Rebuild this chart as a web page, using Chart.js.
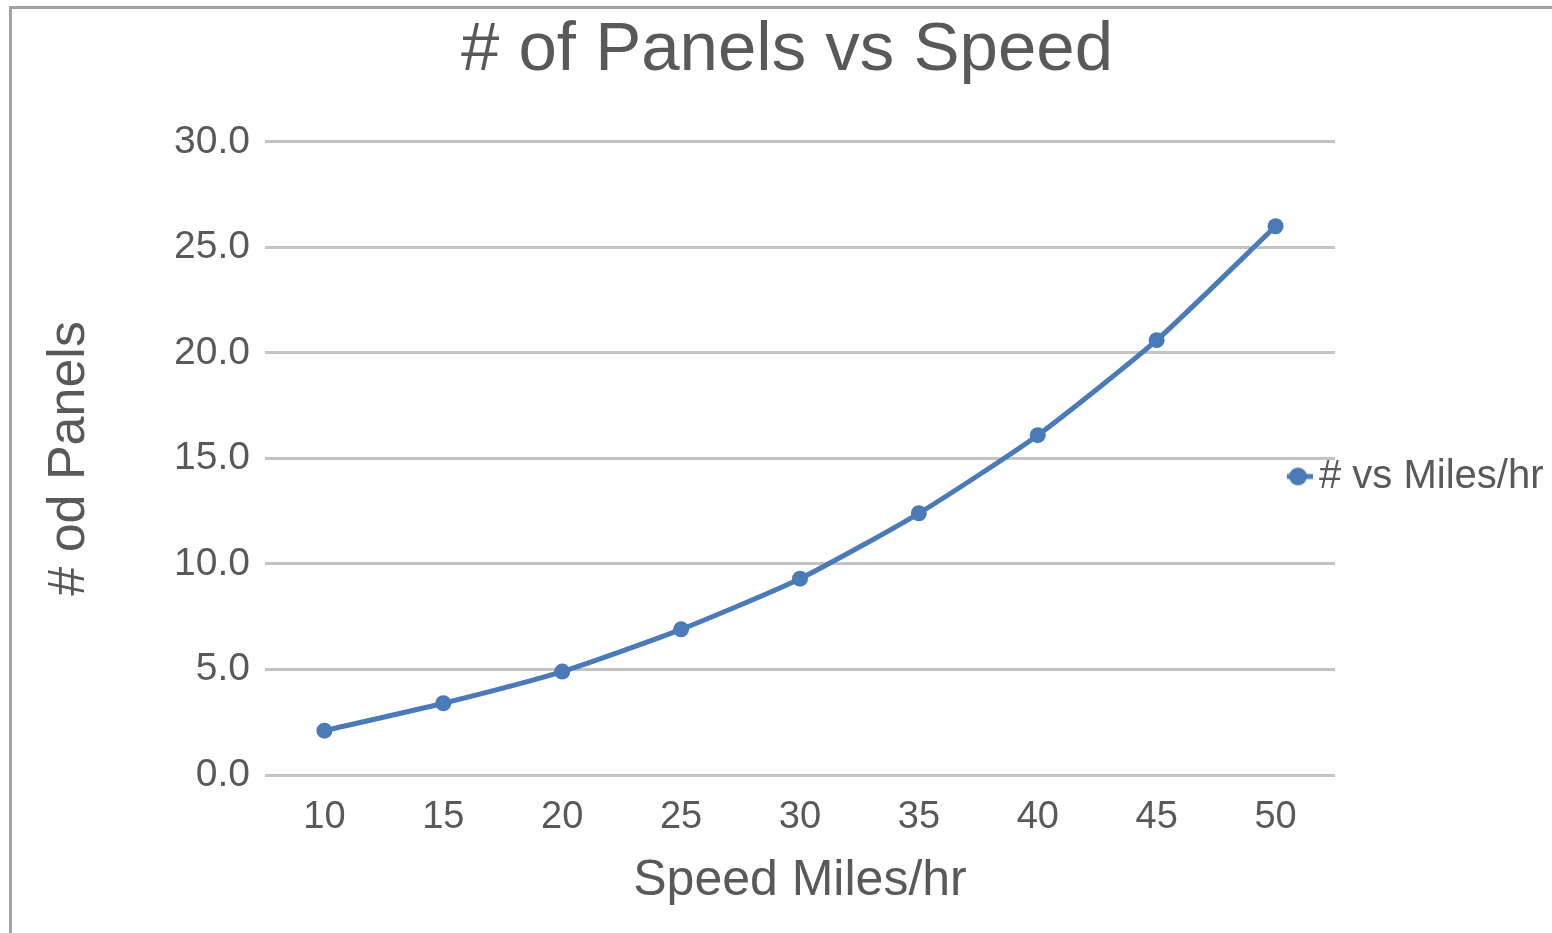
<!DOCTYPE html>
<html>
<head>
<meta charset="utf-8">
<title># of Panels vs Speed</title>
<script src="https://cdn.jsdelivr.net/npm/chart.js@4/dist/chart.umd.min.js"></script>
<style>
    html, body { margin: 0; padding: 0; background: #fff; }
    #wrap { position: relative; width: 1552px; height: 933px; overflow: hidden; }
    #frame {
        position: absolute; left: 9px; top: 6px; right: -10px; bottom: -10px;
        border-left: 3px solid #a3a3a3; border-top: 3px solid #a3a3a3;
        pointer-events: none;
    }
</style>
</head>
<body>
<div id="wrap">
    <canvas id="panelsChart"></canvas>
    <div id="frame"></div>
</div>
<script>
// chart data
const speeds = ['10', '15', '20', '25', '30', '35', '40', '45', '50'];
const panels = [2.1, 3.4, 4.9, 6.9, 9.3, 12.4, 16.1, 20.6, 26.0];
const seriesName = '# vs Miles/hr';

const textColor = '#595959';
const lineColor = '#4a7ab7';
const fontFamily = "'Liberation Sans', Arial, Helvetica, sans-serif";

// legend marker: short line with a dot, like the spreadsheet one
function makeMarker() {
    const c = document.createElement('canvas');
    c.width = 30;
    c.height = 20;
    const ctx = c.getContext('2d');
    ctx.strokeStyle = lineColor;
    ctx.lineWidth = 5;
    ctx.beginPath();
    ctx.moveTo(0, 10);
    ctx.lineTo(30, 10);
    ctx.stroke();
    ctx.fillStyle = lineColor;
    ctx.beginPath();
    ctx.arc(15, 10, 9, 0, Math.PI * 2);
    ctx.fill();
    return c;
}
const marker = makeMarker();

// legend reserves a narrow column and then overhangs the grid a bit
const legendShift = {
    id: 'legendShift',
    beforeLayout(chart) {
        const lg = chart.legend;
        if (!lg || lg._narrow) return;
        const fit = lg.fit.bind(lg);
        lg.fit = function () {
            fit();
            this.width = 209;
        };
        lg._narrow = true;
    },
    afterLayout(chart) {
        const lg = chart.legend;
        if (!lg) return;
        lg.left -= 48;
        lg.right = chart.width;
        lg.top += 16;
        lg.bottom += 16;
    }
};

const ctx = document.getElementById('panelsChart');

new Chart(ctx, {
    type: 'line',
    data: {
        labels: speeds,
        datasets: [{
            label: seriesName,
            data: panels,
            borderColor: lineColor,
            backgroundColor: lineColor,
            borderWidth: 5,
            pointRadius: 8,
            pointHoverRadius: 8,
            pointBackgroundColor: lineColor,
            pointBorderWidth: 0,
            pointStyle: 'circle',
            tension: 0.2,
            fill: false
        }]
    },
    options: {
        responsive: true,
        maintainAspectRatio: false,
        animation: false,
        layout: {
            padding: { left: 30, right: 8, top: 10, bottom: 22 }
        },
        plugins: {
            title: {
                display: true,
                text: '# of Panels vs Speed',
                color: textColor,
                font: { family: fontFamily, size: 69, weight: 'normal' },
                padding: { top: 0, bottom: 49 }
            },
            legend: {
                position: 'right',
                labels: {
                    color: textColor,
                    font: { family: fontFamily, size: 40 },
                    usePointStyle: true,
                    pointStyleWidth: 2,
                    padding: 10,
                    generateLabels(chart) {
                        return [{
                            text: seriesName,
                            fillStyle: lineColor,
                            strokeStyle: lineColor,
                            lineWidth: 0,
                            pointStyle: marker,
                            fontColor: textColor,
                            datasetIndex: 0,
                            hidden: false
                        }];
                    }
                }
            },
            tooltip: { enabled: false }
        },
        scales: {
            x: {
                offset: true,
                grid: { display: false, drawTicks: false },
                border: { display: false },
                ticks: {
                    color: textColor,
                    font: { family: fontFamily, size: 38 },
                    padding: 20,
                    maxRotation: 0
                },
                title: {
                    display: true,
                    text: 'Speed Miles/hr',
                    color: textColor,
                    font: { family: fontFamily, size: 50 },
                    padding: { top: 8, bottom: 0 }
                },
                afterFit(scale) {
                    scale.height = 136;
                }
            },
            y: {
                min: 0,
                max: 30,
                grid: { color: '#c3c3c3', lineWidth: 3, drawTicks: false },
                border: { display: false },
                ticks: {
                    stepSize: 5,
                    color: textColor,
                    font: { family: fontFamily, size: 39 },
                    padding: 15,
                    callback: v => v.toFixed(1)
                },
                title: {
                    display: true,
                    text: '# od Panels',
                    color: textColor,
                    font: { family: fontFamily, size: 52 },
                    padding: { top: 8, bottom: 0 }
                },
                afterFit(scale) {
                    scale.width = 235;
                }
            }
        }
    },
    plugins: [legendShift]
});
</script>
</body>
</html>
